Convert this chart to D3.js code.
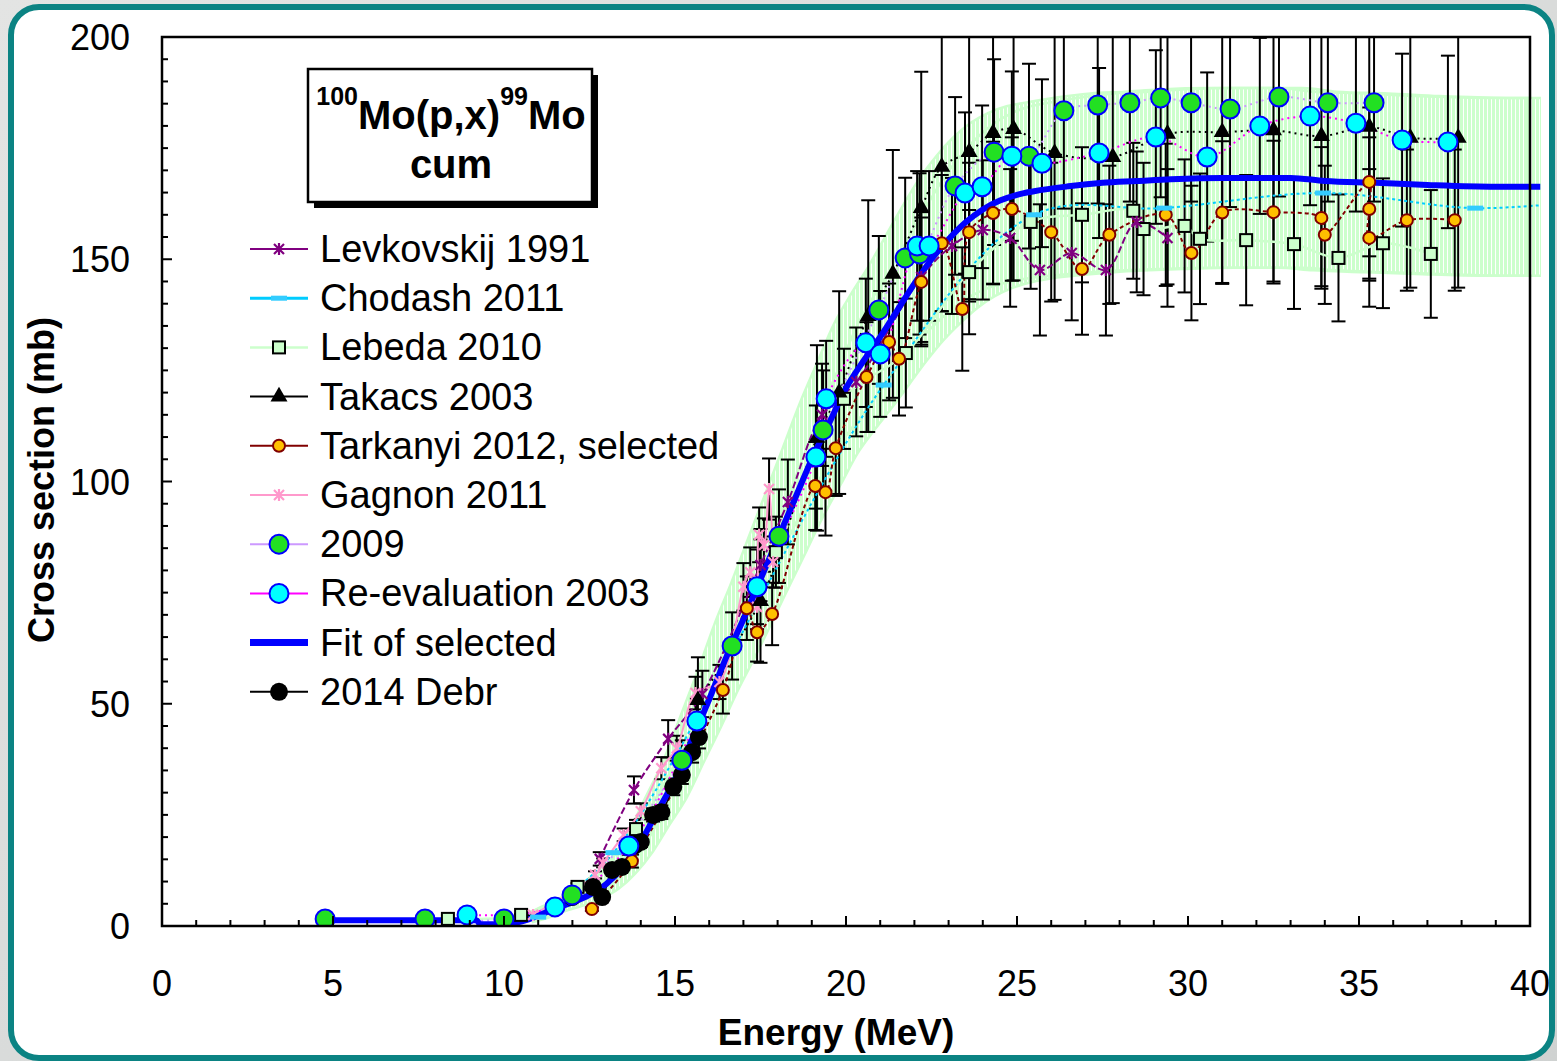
<!DOCTYPE html>
<html><head><meta charset="utf-8">
<script src="https://cdn.jsdelivr.net/npm/d3@7"></script>
<style>html,body{margin:0;padding:0;background:#d9dbda;} svg{display:block;font-family:"Liberation Sans",Arial,sans-serif;}</style>
</head><body><svg id="c" width="1557" height="1061"></svg>
<script>
// ---------------- DATA ----------------
const xTicks = [0, 5, 10, 15, 20, 25, 30, 35, 40];
const yTicks = [0, 50, 100, 150, 200];

const levE = [12.8, 13.8, 14.8, 15.8, 17.5, 18.3, 19.3, 20.3, 22.2, 23.1, 24.0, 24.8, 25.67, 26.6, 27.6, 28.5, 29.4];
const levS = [15.1, 30.6, 42.1, 52.2, 81.2, 95.4, 115, 122.4, 146, 153, 156.6, 154.8, 147.6, 151.4, 147.6, 158.4, 154.8];
const levErr = 0.10;

const chodE = [11.0, 13.2, 21.1, 25.5, 29.3, 33.95, 38.4, 41.5];
const chodS = [2.0, 16.5, 121.7, 160, 161.5, 164.9, 161.5, 163];

const lebE = [8.36, 10.5, 12.15, 13.86, 17.95, 19.94, 21.75, 23.6, 25.4, 26.9, 28.4, 28.7, 29.9, 30.35, 31.7, 33.1, 34.4, 35.7, 37.1];
const lebS = [1.6, 2.5, 8.8, 21.8, 84.1, 118.6, 128.9, 147.1, 158.4, 160, 160.9, 156.8, 157.5, 154.6, 154.3, 153.4, 150.3, 153.6, 151.2];
const lebErr = 0.095;

const takE = [15.67, 17.5, 19.15, 19.8, 20.65, 21.37, 22.2, 22.8, 23.6, 24.3, 24.9, 26.1, 27.8, 29.4, 31.0, 32.5, 33.9, 35.3, 36.5, 37.9];
const takS = [50.8, 73.1, 109.8, 120, 137.2, 146.7, 161.5, 170.8, 174.1, 178.4, 179.3, 173.9, 173, 178.2, 178.6, 179, 177.7, 179.8, 177.3, 177.3];
const takErr = 0.19;

const tarE = [12.57, 13.74, 16.4, 17.1, 17.4, 17.84, 19.1, 19.4, 19.7, 20.6, 21.26, 21.55, 22.2, 22.8, 23.4, 23.6, 24.3, 24.85, 26.0, 26.9, 27.7, 29.35, 30.1, 31.0, 32.5, 33.9, 34.0, 35.3, 35.3, 35.3, 36.4, 37.8];
const tarS = [3.8, 14.6, 53.1, 71.5, 66.1, 70.2, 99, 97.6, 107.5, 123.5, 131.4, 127.6, 144.9, 153.6, 138.8, 156.1, 160.4, 161.3, 156.1, 147.8, 155.5, 160, 151.4, 160.5, 160.6, 159.3, 155.5, 167.4, 161.3, 154.8, 158.8, 158.8];
const tarErr = 0.10;

const gagE = [10.85, 12.66, 12.9, 13.5, 14.0, 14.6, 15.05, 15.6, 16.3, 17.0, 17.2, 17.4, 17.46, 17.6, 17.75, 17.87];
const gagS = [2.5, 11.5, 14.2, 20.5, 25.8, 35.5, 40, 52.4, 54.9, 76.3, 79.6, 71.8, 88, 85.7, 98.3, 81.9];
const gagErr = 0.07;

const e2009 = [4.77, 7.69, 10.0, 11.99, 15.2, 16.67, 18.04, 19.33, 20.96, 21.73, 22.15, 23.19, 24.33, 25.35, 26.37, 27.36, 28.3, 29.2, 30.09, 31.23, 32.66, 34.09, 35.44];
const s2009 = [1.6, 1.6, 1.6, 7.0, 37.3, 63, 87.7, 111.6, 138.6, 150.3, 151.2, 166.5, 174.1, 173.2, 183.4, 184.7, 185.2, 186.3, 185.2, 183.8, 186.5, 185.2, 185.2];
const err2009 = 0.12;

const reE = [8.92, 11.49, 13.65, 15.64, 17.4, 19.12, 19.42, 20.58, 21.0, 22.08, 22.43, 23.48, 23.98, 24.85, 25.73, 27.4, 29.06, 30.56, 32.1, 33.57, 34.91, 36.26, 37.6];
const reS = [2.5, 4.3, 18.0, 46.1, 76.3, 105.5, 118.6, 131.2, 128.7, 153, 153, 164.9, 166.3, 173.2, 171.6, 173.9, 177.5, 173.0, 180, 182.2, 180.6, 176.8, 176.4];
const reErr = 0.11;

const debE = [11.99, 12.6, 12.87, 13.16, 13.45, 13.83, 14.0, 14.36, 14.6, 14.95, 15.2, 15.5, 15.7];
const debS = [6.5, 8.8, 6.5, 12.6, 13.3, 18.2, 18.9, 25, 25.6, 31.3, 34, 39.1, 42.5];
const debErr = 0.06;

const fitE = [4.5, 6, 8, 9.2, 9.3, 10, 10.5, 11, 11.5, 12, 12.5, 13, 13.5, 14, 14.5, 15, 15.5, 16, 16.5, 17, 17.5, 18, 18.5, 19, 19.5, 20, 20.5, 21, 21.5, 22, 22.5, 23, 23.5, 24, 24.5, 25, 25.5, 26.5, 27.5, 28.5, 29.5, 31, 33, 34, 35.5, 37, 39, 40.3];
const fitS = [1.3, 1.3, 1.3, 1.3, 0.4, 0.4, 1.0, 2.3, 4.0, 5.3, 7, 9.5, 13.5, 19, 26, 33, 42, 51, 60.5, 69, 78, 87, 96, 105, 113, 121, 127, 132.5, 138.5, 144.5, 150, 154.5, 158.3, 161.2, 163.2, 164.5, 165.3, 166.4, 167.2, 167.6, 168, 168.3, 168.3, 167.6, 167.2, 166.7, 166.3, 166.3];
const fitU = [0.15, 0.15, 0.15, 0.15, 0.05, 0.05, 0.1, 0.3, 0.5, 0.6, 0.8, 1.1, 1.6, 2.3, 3.1, 4.0, 5.0, 6.1, 7.3, 8.3, 9.4, 10.4, 11.5, 12.6, 13.6, 14.5, 15.2, 15.8, 16.6, 17.4, 18.2, 18.8, 19.2, 19.5, 19.7, 19.8, 19.8, 20, 20.1, 20.1, 20.2, 20.2, 20.2, 20.1, 20.1, 20, 20, 20];

const legendNames = ["Levkovskij 1991", "Chodash 2011", "Lebeda 2010", "Takacs 2003", "Tarkanyi 2012, selected", "Gagnon 2011", "2009", "Re-evaluation 2003", "Fit of selected", "2014 Debr"];

// ---------------- CHART ----------------
const W = 1557, H = 1061;
const L = 162, R = 1530, T = 37, B = 926;
const x = d3.scaleLinear().domain([0, 40]).range([L, R]);
const y = d3.scaleLinear().domain([0, 200]).range([B, T]);

const svg = d3.select('#c');
const defs = svg.append('defs');
const bg = defs.append('linearGradient').attr('id', 'bg').attr('x1', 0).attr('y1', 0).attr('x2', 1).attr('y2', 1);
bg.append('stop').attr('offset', '0%').attr('stop-color', '#e3e4e3');
bg.append('stop').attr('offset', '100%').attr('stop-color', '#cfd2d1');
svg.append('rect').attr('width', W).attr('height', H).attr('fill', 'url(#bg)');
svg.append('rect').attr('x', 11).attr('y', 7).attr('width', 1541).attr('height', 1051).attr('rx', 28)
  .attr('fill', '#fff').attr('stroke', '#0b8383').attr('stroke-width', 6);

defs.append('clipPath').attr('id', 'clip').append('rect').attr('x', L).attr('y', T).attr('width', 1541 - L).attr('height', B - T);
const pat = defs.append('pattern').attr('id', 'stripe').attr('patternUnits', 'userSpaceOnUse').attr('width', 4).attr('height', 4);
pat.append('rect').attr('x', 0).attr('y', 0).attr('width', 3).attr('height', 4).attr('fill', '#ccffcc');

const plot = svg.append('g').attr('clip-path', 'url(#clip)');

const zip = (E, S) => E.map((e, i) => ({ e, s: S[i] }));

// fit uncertainty band (drawn as dense light-green error bars with caps)
const fitData = fitE.map((e, i) => ({ e, s: fitS[i], u: fitU[i] }));
const bandData = fitData.filter(d => d.e >= 10.5);
const area = d3.area().x(d => x(d.e)).y0(d => y(d.s - d.u)).y1(d => y(d.s + d.u)).curve(d3.curveMonotoneX);
d3.range(-12, 13, 4).forEach(dx => {
  plot.append('path').datum(bandData).attr('d', area).attr('transform', `translate(${dx},0)`).attr('fill', 'url(#stripe)');
});
[-12, 12].forEach(dx => {
  plot.append('path').datum(bandData).attr('d', area).attr('transform', `translate(${dx},0)`)
    .attr('fill', 'none').attr('stroke', '#ccffcc').attr('stroke-width', 2.5);
});

// error bars
function errBars(E, S, rel) {
  const g = plot.append('g').attr('stroke', '#000').attr('stroke-width', 2);
  E.forEach((e, i) => {
    const px = x(e), hi = y(S[i] * (1 + rel)), lo = y(S[i] * (1 - rel));
    g.append('line').attr('x1', px).attr('x2', px).attr('y1', hi).attr('y2', lo);
    g.append('line').attr('x1', px - 7).attr('x2', px + 7).attr('y1', hi).attr('y2', hi);
    g.append('line').attr('x1', px - 7).attr('x2', px + 7).attr('y1', lo).attr('y2', lo);
  });
}
errBars(lebE, lebS, lebErr);
errBars(takE, takS, takErr);
errBars(tarE, tarS, tarErr);
errBars(levE, levS, levErr);
errBars(gagE, gagS, gagErr);
errBars(e2009, s2009, err2009);
errBars(reE, reS, reErr);
errBars(debE, debS, debErr);

// series lines
const line = d3.line().x(d => x(d.e)).y(d => y(d.s)).curve(d3.curveCatmullRom.alpha(0.5));
function drawLine(E, S, color, w, dash) {
  plot.append('path').datum(zip(E, S)).attr('d', line).attr('fill', 'none')
    .attr('stroke', color).attr('stroke-width', w).attr('stroke-dasharray', dash || null);
}
drawLine(lebE, lebS, '#ccffcc', 2.5);
drawLine(chodE, chodS, '#00ccff', 2, '3,3');
drawLine(levE, levS, '#800080', 2, '7,3');
drawLine(gagE, gagS, '#ff99cc', 2);
drawLine(tarE, tarS, '#800000', 2, '4,3');
drawLine(takE, takS, '#000', 2, '2,4');
drawLine(e2009, s2009, '#cc99ff', 2, '2,4');
drawLine(reE, reS, '#ff00ff', 2, '2,4');
drawLine(debE, debS, '#000', 1.5);

// fit line
plot.append('path').datum(fitData).attr('d', d3.line().x(d => x(d.e)).y(d => y(d.s)).curve(d3.curveMonotoneX))
  .attr('fill', 'none').attr('stroke', '#0000ff').attr('stroke-width', 6);

// markers
function marker(g, type, px, py) {
  switch (type) {
    case 'star': g.append('path').attr('d', `M${px-5},${py-5}L${px+5},${py+5}M${px-5},${py+5}L${px+5},${py-5}M${px},${py-6}L${px},${py+6}`)
      .attr('fill', 'none').attr('stroke-width', 2.2); break;
    case 'dash': g.append('rect').attr('x', px - 8).attr('y', py - 2.5).attr('width', 16).attr('height', 5); break;
    case 'square': g.append('rect').attr('x', px - 6).attr('y', py - 6).attr('width', 12).attr('height', 12).attr('stroke-width', 2); break;
    case 'tri': g.append('path').attr('d', d3.symbol(d3.symbolTriangle, 125)()).attr('transform', `translate(${px},${py})`); break;
    case 'small': g.append('circle').attr('cx', px).attr('cy', py).attr('r', 6).attr('stroke-width', 2); break;
    case 'big': g.append('circle').attr('cx', px).attr('cy', py).attr('r', 9.5).attr('stroke-width', 2); break;
    case 'dot': g.append('circle').attr('cx', px).attr('cy', py).attr('r', 9); break;
  }
}
const styles = [
  { E: levE, S: levS, type: 'star', fill: 'none', stroke: '#800080', lc: '#800080', lw: 2 },
  { E: chodE, S: chodS, type: 'dash', fill: '#33ccff', stroke: 'none', lc: '#00ccff', lw: 3 },
  { E: lebE, S: lebS, type: 'square', fill: '#ccffcc', stroke: '#000', lc: '#ccffcc', lw: 2.5 },
  { E: takE, S: takS, type: 'tri', fill: '#000', stroke: 'none', lc: '#000', lw: 2 },
  { E: tarE, S: tarS, type: 'small', fill: '#ffc000', stroke: '#800000', lc: '#800000', lw: 2 },
  { E: gagE, S: gagS, type: 'star', fill: 'none', stroke: '#ff99cc', lc: '#ff99cc', lw: 2 },
  { E: e2009, S: s2009, type: 'big', fill: '#22e022', stroke: '#0000ff', lc: '#cc99ff', lw: 2 },
  { E: reE, S: reS, type: 'big', fill: '#00ffff', stroke: '#0000ff', lc: '#ff00ff', lw: 2 },
  { E: null, S: null, type: 'fit', fill: 'none', stroke: 'none', lc: '#0000ff', lw: 7 },
  { E: debE, S: debS, type: 'dot', fill: '#000', stroke: 'none', lc: '#000', lw: 2 }
];
const drawOrder = [2, 0, 5, 4, 3, 1, 9, 6, 7];
drawOrder.forEach(k => {
  const st = styles[k];
  const g = plot.append('g').attr('fill', st.fill).attr('stroke', st.stroke);
  st.E.forEach((e, i) => marker(g, st.type, x(e), y(st.S[i])));
});

// axes frame and ticks
const ax = svg.append('g').attr('stroke', '#000');
d3.range(0, 201, 5).forEach(v => {
  const len = v % 50 === 0 ? 10 : 6;
  ax.append('line').attr('x1', L).attr('x2', L + len).attr('y1', y(v)).attr('y2', y(v)).attr('stroke-width', 2);
});
d3.range(0, 41, 1).forEach(v => {
  const len = v % 5 === 0 ? 10 : 6;
  ax.append('line').attr('x1', x(v)).attr('x2', x(v)).attr('y1', B).attr('y2', B - len).attr('stroke-width', 2);
});
svg.append('rect').attr('x', L).attr('y', T).attr('width', R - L).attr('height', B - T)
  .attr('fill', 'none').attr('stroke', '#000').attr('stroke-width', 2.5);

svg.append('g').selectAll('text').data(yTicks).join('text')
  .attr('x', 130).attr('y', d => y(d) + 13).attr('text-anchor', 'end').attr('font-size', 36).text(d => d);
svg.append('g').selectAll('text').data(xTicks).join('text')
  .attr('x', d => x(d)).attr('y', 996).attr('text-anchor', 'middle').attr('font-size', 36).text(d => d);

svg.append('text').attr('x', 836).attr('y', 1045).attr('text-anchor', 'middle').attr('font-size', 37).attr('font-weight', 'bold').text('Energy (MeV)');
svg.append('text').attr('transform', 'translate(54,480) rotate(-90)').attr('text-anchor', 'middle').attr('font-size', 36).attr('font-weight', 'bold').text('Cross section (mb)');

// title box
svg.append('rect').attr('x', 314).attr('y', 75).attr('width', 284).attr('height', 133).attr('fill', '#000');
svg.append('rect').attr('x', 308).attr('y', 69).attr('width', 284).attr('height', 133).attr('fill', '#fff').attr('stroke', '#000').attr('stroke-width', 2.5);
const t1 = svg.append('text').attr('x', 451).attr('y', 129).attr('text-anchor', 'middle').attr('font-weight', 'bold').attr('font-size', 40);
t1.append('tspan').attr('font-size', 25).attr('dy', -24).text('100');
t1.append('tspan').attr('dy', 24).text('Mo(p,x)');
t1.append('tspan').attr('font-size', 25).attr('dy', -24).text('99');
t1.append('tspan').attr('dy', 24).text('Mo');
svg.append('text').attr('x', 451).attr('y', 178).attr('text-anchor', 'middle').attr('font-weight', 'bold').attr('font-size', 40).text('cum');

// legend
const legY0 = 249, legDy = 49.2;
legendNames.forEach((name, k) => {
  const st = styles[k];
  const cy = legY0 + k * legDy;
  svg.append('line').attr('x1', 250).attr('x2', 308).attr('y1', cy).attr('y2', cy).attr('stroke', st.lc).attr('stroke-width', st.lw);
  if (st.type !== 'fit') {
    const g = svg.append('g').attr('fill', st.fill).attr('stroke', st.stroke);
    marker(g, st.type, 279, cy);
  }
  svg.append('text').attr('x', 320).attr('y', cy + 13).attr('font-size', 38).text(name);
});
</script></body></html>
